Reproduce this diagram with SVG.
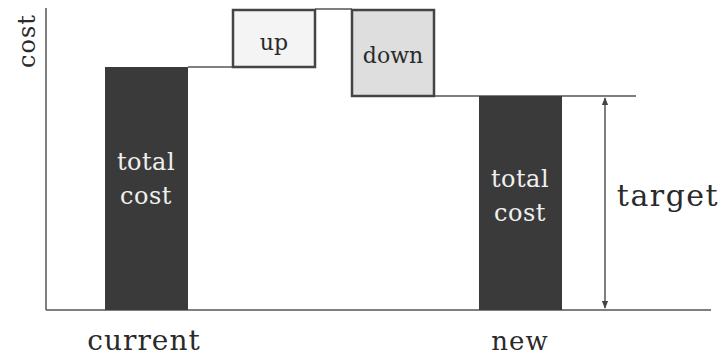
<svg xmlns="http://www.w3.org/2000/svg" width="728" height="356" viewBox="0 0 728 356">
<defs>
<marker id="ah" viewBox="0 0 10 10" refX="9" refY="5" markerWidth="8" markerHeight="8" orient="auto-start-reverse" markerUnits="userSpaceOnUse">
<path d="M0,1 L10,5 L0,9 z" fill="#444"/>
</marker>
<style>
text{font-family:"DejaVu Serif","Liberation Serif",serif;}
.bar{fill:#3a3a3a;}
.box{stroke:#444;stroke-width:2.5;}
.ln{stroke:#555;stroke-width:1.5;fill:none;}
.wt{fill:#f0f0f0;font-size:24px;letter-spacing:0.5px;text-anchor:middle;}
.lb{fill:#2a2a2a;text-anchor:middle;}
</style>
</defs>
<rect width="728" height="356" fill="#fff"/>
<g id="axes">
<line class="ln" x1="46" y1="8" x2="46" y2="310"/>
<line class="ln" x1="46" y1="310" x2="711" y2="310"/>
<text class="lb" font-size="24" letter-spacing="1" transform="translate(35,41) rotate(-90)">cost</text>
</g>
<g id="connectors">
<line class="ln" x1="188" y1="67" x2="233" y2="67"/>
<line class="ln" x1="315" y1="9" x2="352" y2="9"/>
<line class="ln" x1="434" y1="96" x2="636" y2="96"/>
<line class="ln" x1="605" y1="98" x2="605" y2="308" marker-start="url(#ah)" marker-end="url(#ah)"/>
</g>
<g id="current">
<rect class="bar" x="105" y="67" width="83" height="243"/>
<text class="wt" x="146" y="170">total</text>
<text class="wt" x="146" y="204">cost</text>
<text class="lb" font-size="28" letter-spacing="1" x="144" y="350">current</text>
</g>
<g id="up">
<rect class="box" x="233" y="10" width="82" height="57" fill="#f4f4f4"/>
<text class="lb" font-size="22" x="274" y="50">up</text>
</g>
<g id="down">
<rect class="box" x="352" y="10" width="82" height="86" fill="#dedede"/>
<text class="lb" font-size="22" x="393" y="63">down</text>
</g>
<g id="new">
<rect class="bar" x="479" y="96" width="83" height="214"/>
<text class="wt" x="520" y="187">total</text>
<text class="wt" x="520" y="221">cost</text>
<text class="lb" font-size="26" letter-spacing="1" x="520" y="350">new</text>
</g>
<g id="target">
<text class="lb" font-size="30" letter-spacing="1.5" x="668" y="206">target</text>
</g>
</svg>
